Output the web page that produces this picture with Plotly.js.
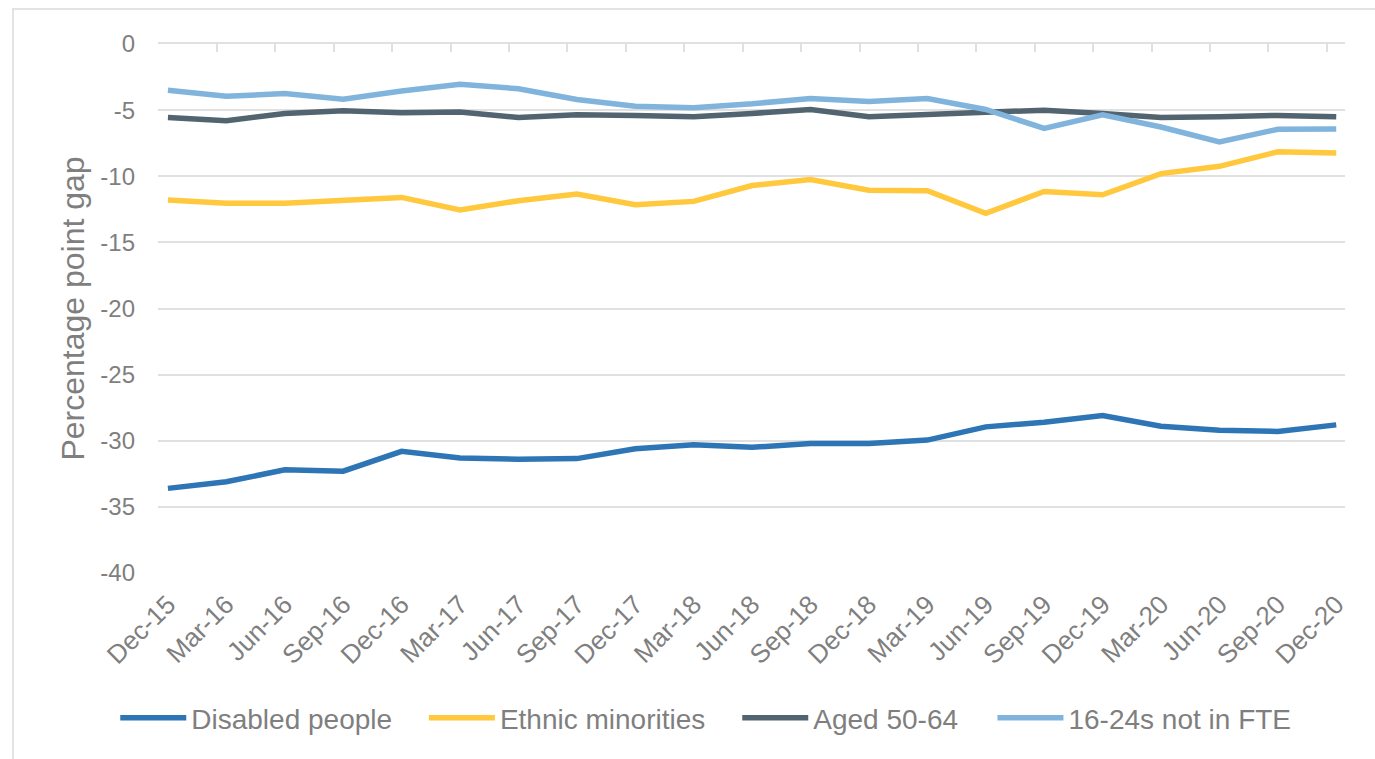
<!DOCTYPE html>
<html>
<head>
<meta charset="utf-8">
<script src="https://cdn.plot.ly/plotly-3.0.1.min.js"></script>
<style>
  html, body { margin: 0; padding: 0; background: #ffffff; }
  #wrap { position: relative; width: 1375px; height: 759px; overflow: hidden; }
  #chart { position: absolute; left: 0; top: 0; width: 1375px; height: 759px; }
  #frame { position: absolute; left: 12px; top: 8px; width: 1400px; height: 800px;
           border-left: 2px solid #e3e3e3; border-top: 2px solid #e3e3e3; pointer-events: none; }
</style>
</head>
<body>
<div id="wrap">
  <div id="chart"></div>
  <div id="frame"></div>
</div>
<script>
// Quarterly labels
const quarters = ['Dec-15','Mar-16','Jun-16','Sep-16','Dec-16','Mar-17','Jun-17','Sep-17','Dec-17',
  'Mar-18','Jun-18','Sep-18','Dec-18','Mar-19','Jun-19','Sep-19','Dec-19','Mar-20','Jun-20','Sep-20','Dec-20'];

// Employment rate gap (percentage points) for each group
const disabledPeople = [-33.6,-33.1,-32.2,-32.3,-30.8,-31.3,-31.4,-31.35,-30.6,-30.3,-30.5,-30.2,-30.2,-29.95,-28.95,-28.6,-28.1,-28.9,-29.2,-29.3,-28.8];
const ethnicMinorities = [-11.8,-12.05,-12.05,-11.8,-11.6,-12.55,-11.85,-11.35,-12.15,-11.9,-10.7,-10.25,-11.05,-11.1,-12.8,-11.15,-11.4,-9.8,-9.25,-8.15,-8.25];
const aged5064 = [-5.55,-5.8,-5.25,-5.05,-5.2,-5.15,-5.55,-5.35,-5.4,-5.5,-5.25,-4.95,-5.5,-5.3,-5.12,-5.0,-5.25,-5.55,-5.5,-5.4,-5.5];
const youngNotFTE = [-3.5,-3.95,-3.75,-4.18,-3.55,-3.05,-3.38,-4.2,-4.7,-4.82,-4.52,-4.12,-4.35,-4.12,-4.95,-6.38,-5.35,-6.28,-7.4,-6.45,-6.42];

// Y axis ticks, written with a plain hyphen
const yTickValues = [0, -5, -10, -15, -20, -25, -30, -35, -40];
const yTickLabels = ['0', '-5', '-10', '-15', '-20', '-25', '-30', '-35', '-40'];

const seriesNames = ['Disabled people', 'Ethnic minorities', 'Aged 50-64', '16-24s not in FTE'];
const seriesColors = ['#2e75b6', '#ffc83d', '#51646f', '#80b4dd'];
const seriesValues = [disabledPeople, ethnicMinorities, aged5064, youngNotFTE];

const textGray = '#7f7f7f';
const gridGray = '#e0e0e0';
const font = 'Liberation Sans, Arial, sans-serif';

// one legend box per series so each entry sits at its own spot in the row
const legendIds = ['legend', 'legend2', 'legend3', 'legend4'];
const legendX = [-0.036, 0.224, 0.488, 0.703];

const traces = seriesValues.map((vals, i) => ({
  type: 'scatter',
  mode: 'lines',
  x: quarters,
  y: vals,
  name: seriesNames[i],
  legend: legendIds[i],
  line: { color: seriesColors[i], width: 5.5, shape: 'linear' },
  hoverinfo: 'x+y+name'
}));

// an empty trace keeps the top axis drawn
traces.push({ type: 'scatter', x: [], y: [], xaxis: 'x2', yaxis: 'y', showlegend: false, hoverinfo: 'skip' });

const layout = {
  width: 1375,
  height: 759,
  paper_bgcolor: 'rgba(0,0,0,0)',
  plot_bgcolor: '#ffffff',
  font: { family: font, color: textGray, size: 24 },
  margin: { l: 158, r: 30, t: 44, b: 186 },
  showlegend: true,
  xaxis: {
    type: 'category',
    range: [-0.17, 20.15],
    tickangle: -45,
    tickfont: { family: font, size: 26, color: textGray },
    ticklabelstandoff: 10,
    showgrid: false,
    zeroline: false,
    showline: false,
    ticks: ''
  },
  // zero line along the top with small category ticks
  xaxis2: {
    overlaying: 'x',
    side: 'top',
    type: 'linear',
    range: [-0.17, 20.15],
    tick0: -0.16,
    dtick: 1,
    ticks: 'inside',
    ticklen: 8,
    tickwidth: 2,
    tickcolor: gridGray,
    showline: true,
    linecolor: gridGray,
    linewidth: 2,
    showgrid: false,
    zeroline: false,
    showticklabels: false
  },
  yaxis: {
    range: [-40, 0],
    tickmode: 'array',
    tickvals: yTickValues,
    ticktext: yTickLabels,
    showgrid: true,
    gridcolor: gridGray,
    gridwidth: 2,
    zeroline: false,
    showline: false,
    ticks: '',
    ticklabelstandoff: 22,
    tickfont: { family: font, size: 24, color: textGray },
    title: { text: 'Percentage point gap', font: { family: font, size: 32, color: textGray }, standoff: 6 }
  }
};

legendIds.forEach((id, i) => {
  layout[id] = {
    orientation: 'h',
    x: legendX[i], xanchor: 'left',
    y: -0.274, yanchor: 'middle',
    font: { family: font, size: 28, color: textGray },
    itemwidth: 66,
    bgcolor: 'rgba(0,0,0,0)'
  };
});

Plotly.newPlot('chart', traces, layout, { displayModeBar: false, staticPlot: true });
</script>
</body>
</html>
